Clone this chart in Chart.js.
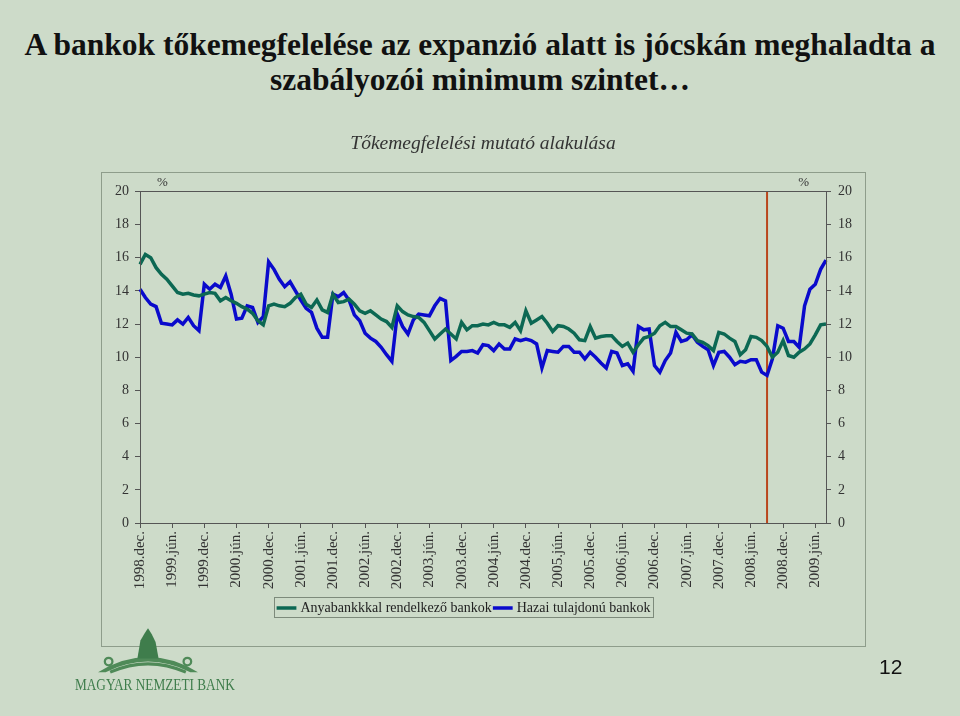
<!DOCTYPE html>
<html>
<head>
<meta charset="utf-8">
<script src="https://cdn.jsdelivr.net/npm/chart.js@4.4.0/dist/chart.umd.min.js"></script>
<style>
body{margin:0;background:#cddbc9;}
#slide{position:relative;width:960px;height:716px;overflow:hidden;background:#cddbc9;}
#title{position:absolute;left:0;top:27px;width:960px;text-align:center;font-family:"Liberation Serif","Times New Roman",serif;font-weight:bold;font-size:31.5px;line-height:35px;color:#111;}
#frame{position:absolute;left:101px;top:172px;width:763px;height:473px;border:1px solid #8e9d8b;}
#myChart{position:absolute;left:0;top:0;}
#mnb{position:absolute;left:75px;top:675px;white-space:nowrap;font-family:"Liberation Serif",serif;font-size:17px;color:#3f7d4c;transform:scaleX(0.78);transform-origin:left top;}
#logo{position:absolute;left:95px;top:628px;}
#page{position:absolute;left:879px;top:655px;font-family:"Liberation Sans Narrow","Liberation Sans",sans-serif;font-size:21px;color:#111;}
</style>
</head>
<body>
<div id="slide">
  <div id="title">A bankok tőkemegfelelése az expanzió alatt is jócskán meghaladta a<br>szabályozói minimum szintet…</div>
  <div id="frame"></div>
  <canvas id="myChart" width="960" height="716"></canvas>
  <svg id="logo" width="106" height="46" viewBox="0 0 140 60">
    <path d="M4 58 Q70 18 136 58 L126 58 Q70 30 14 58 Z" fill="#4f8a58"/>
    <path d="M20 58 Q70 36 120 58" stroke="#4f8a58" stroke-width="4" fill="none"/>
    <path d="M56 40 L60 16 L66 6 L70 0 L75 8 L80 18 L84 40 Z" fill="#3f7d4c"/>
    <circle cx="18" cy="44" r="5" fill="none" stroke="#4f8a58" stroke-width="3"/>
    <circle cx="122" cy="44" r="5" fill="none" stroke="#4f8a58" stroke-width="3"/>
  </svg>
  <div id="mnb">MAGYAR NEMZETI BANK</div>
  <div id="page">12</div>
</div>
<script>
// hónapok: 1998.dec. - 2009.aug.
const honapNevek = ['jan.','febr.','márc.','ápr.','máj.','jún.','júl.','aug.','szept.','okt.','nov.','dec.'];
const honapok = ['1998.dec.'];
for (let ev = 1999; ev <= 2009; ev++) {
  for (let h = 0; h < 12; h++) {
    if (ev === 2009 && h > 7) break;
    honapok.push(ev + '.' + honapNevek[h]);
  }
}

// Anyabankkkal rendelkező bankok (%)
const anyabank = [
  15.6, 16.2, 16.0, 15.4, 15.0, 14.7, 14.3, 13.9, 13.8, 13.85, 13.75, 13.7,
  13.8, 13.9, 13.85, 13.4, 13.6, 13.4, 13.25, 13.05, 12.9, 12.65, 12.2, 11.95,
  13.1, 13.2, 13.1, 13.05, 13.25, 13.6, 13.8, 13.2, 13.0, 13.45, 12.85, 12.7,
  13.8, 13.3, 13.35, 13.5, 13.2, 12.8, 12.65, 12.8, 12.55, 12.3, 12.15, 11.8,
  13.1, 12.75, 12.55, 12.45, 12.4, 12.1, 11.6, 11.1, 11.4, 11.7, 11.4, 11.1,
  12.1, 11.65, 11.9, 11.9, 12.0, 11.95, 12.1, 11.95, 11.95, 11.8, 12.1, 11.6,
  12.8, 12.05, 12.25, 12.45, 12.05, 11.55, 11.9, 11.85, 11.7, 11.45, 11.05, 11.0,
  11.85, 11.15, 11.25, 11.3, 11.3, 10.95, 10.65, 10.85, 10.3, 10.75, 11.15, 11.25,
  11.45, 11.9, 12.1, 11.85, 11.85, 11.65, 11.45, 11.4, 11.0, 10.9, 10.7, 10.4,
  11.5, 11.4, 11.15, 10.95, 10.15, 10.45, 11.25, 11.2, 11.0, 10.65, 10.0, 10.3,
  11.0, 10.1, 10.0, 10.3, 10.5, 10.8, 11.35, 11.95, 12.0
];

// Hazai tulajdonú bankok (%)
const hazai = [
  14.1, 13.6, 13.2, 13.05, 12.05, 12.0, 11.95, 12.25, 12.0, 12.4, 11.9, 11.6,
  14.4, 14.1, 14.4, 14.2, 14.9, 13.8, 12.3, 12.35, 13.1, 13.0, 12.1, 12.45,
  15.75, 15.3, 14.7, 14.25, 14.55, 14.0, 13.45, 12.95, 12.7, 11.75, 11.2, 11.2,
  13.8, 13.65, 13.9, 13.45, 12.55, 12.2, 11.45, 11.15, 10.95, 10.6, 10.15, 9.75,
  12.6, 11.85, 11.4, 12.25, 12.6, 12.55, 12.5, 13.1, 13.55, 13.4, 9.8, 10.05,
  10.35, 10.35, 10.4, 10.25, 10.75, 10.7, 10.4, 10.8, 10.5, 10.5, 11.1, 11.0,
  11.1, 11.0, 10.8, 9.35, 10.4, 10.35, 10.3, 10.65, 10.65, 10.3, 10.3, 9.9,
  10.3, 10.0, 9.65, 9.35, 10.35, 10.25, 9.5, 9.6, 9.15, 11.85, 11.65, 11.7,
  9.5, 9.1, 9.8, 10.25, 11.5, 10.95, 11.05, 11.35, 10.9, 10.65, 10.45, 9.5,
  10.3, 10.35, 10.0, 9.55, 9.75, 9.7, 9.85, 9.85, 9.1, 8.9, 9.9, 11.9,
  11.75, 10.95, 10.95, 10.6, 13.1, 14.1, 14.4, 15.3, 15.85
];

const yTicks = [0, 2, 4, 6, 8, 10, 12, 14, 16, 18, 20];
const jelolesHonap = '2008.szept.'; // függőleges vonal

const serif = '"Liberation Serif","Times New Roman",serif';
const tickFont = {family: serif, size: 14};

// keret, piros vonal, % jelek, legenda doboz
const keretPlugin = {
  id: 'keret',
  afterLayout(chart) {
    // legenda kicsit balra, mint az eredetin
    const lg = chart.legend;
    lg.left -= 18;
    lg.right -= 18;
    (lg.legendHitBoxes || []).forEach(h => { h.left -= 18; });
  },
  beforeDatasetsDraw(chart) {
    const c = chart.ctx, a = chart.chartArea;
    const x = chart.scales.x.getPixelForValue(honapok.indexOf(jelolesHonap));
    c.save();
    c.strokeStyle = '#b9461c';
    c.lineWidth = 2;
    c.beginPath();
    c.moveTo(x, a.top);
    c.lineTo(x, a.bottom);
    c.stroke();
    c.restore();
  },
  afterDraw(chart) {
    const c = chart.ctx, a = chart.chartArea;
    c.save();
    c.strokeStyle = '#555';
    c.lineWidth = 1;
    c.strokeRect(Math.round(a.left) + 0.5, Math.round(a.top) + 0.5, Math.round(a.right - a.left), Math.round(a.bottom - a.top));
    c.fillStyle = '#333';
    c.font = '13px ' + serif;
    c.textBaseline = 'bottom';
    c.textAlign = 'left';
    c.fillText('%', a.left + 17, a.top - 2);
    c.textAlign = 'right';
    c.fillText('%', a.right - 17, a.top - 2);
    // legenda keret
    const boxes = chart.legend.legendHitBoxes;
    if (boxes && boxes.length) {
      let l = Infinity, t = Infinity, r = -Infinity, b = -Infinity;
      boxes.forEach(h => {
        l = Math.min(l, h.left); t = Math.min(t, h.top);
        r = Math.max(r, h.left + h.width); b = Math.max(b, h.top + h.height);
      });
      c.strokeStyle = '#7d8a7b';
      c.strokeRect(Math.round(l) - 4.5, Math.round(t) - 3.5, Math.round(r - l) + 8, Math.round(b - t) + 6);
    }
    c.restore();
  }
};

const yAxis = (pos) => ({
  position: pos,
  min: 0,
  max: 20,
  afterBuildTicks: s => { s.ticks = yTicks.map(v => ({value: v})); },
  ticks: {font: tickFont, color: '#333', padding: pos === 'left' ? 6 : 7},
  grid: {drawOnChartArea: false, tickLength: 5, color: '#555'},
  border: {display: false},
  afterFit: s => { s.width = 40; }
});

const ctx = document.getElementById('myChart').getContext('2d');
const myChart = new Chart(ctx, {
  type: 'line',
  data: {
    labels: honapok,
    datasets: [{
      label: 'Anyabankkkal rendelkező bankok',
      data: anyabank,
      borderColor: '#0c6853',
      backgroundColor: '#0c6853',
      borderWidth: 3.5,
      pointRadius: 0,
      tension: 0,
      yAxisID: 'y'
    },
    {
      label: 'Hazai tulajdonú bankok',
      data: hazai,
      borderColor: '#0a0acc',
      backgroundColor: '#0a0acc',
      borderWidth: 3.5,
      pointRadius: 0,
      tension: 0,
      yAxisID: 'y'
    }]
  },
  options: {
    responsive: false,
    animation: false,
    layout: {padding: {left: 100, right: 94, top: 132, bottom: 91}},
    plugins: {
      title: {
        display: true,
        text: 'Tőkemegfelelési mutató alakulása',
        color: '#333',
        font: {family: serif, size: 19.5, style: 'italic', weight: 'normal'},
        padding: {top: 0, bottom: 36}
      },
      legend: {
        position: 'bottom',
        labels: {
          usePointStyle: true,
          pointStyle: 'line',
          boxWidth: 22,
          padding: 4,
          color: '#222',
          font: {family: serif, size: 14}
        }
      },
      tooltip: {enabled: false}
    },
    scales: {
      x: {
        offset: false,
        ticks: {
          autoSkip: false,
          maxRotation: 90,
          minRotation: 90,
          font: {family: serif, size: 15},
          color: '#333',
          callback: function(v, i) { return i % 6 === 0 ? this.getLabelForValue(v) : ''; }
        },
        grid: {
          drawOnChartArea: false,
          tickLength: 5,
          color: c => (c.index % 6 === 0 ? '#555' : 'rgba(0,0,0,0)')
        },
        border: {display: false},
        afterFit: s => { s.height = 74; }
      },
      y: yAxis('left'),
      y2: yAxis('right')
    }
  },
  plugins: [keretPlugin]
});
</script>
</body>
</html>
